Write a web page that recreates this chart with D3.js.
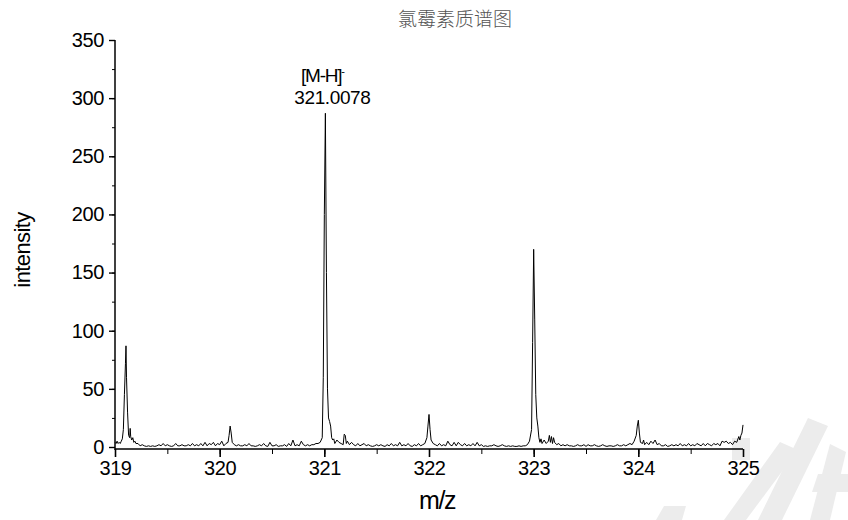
<!DOCTYPE html>
<html><head><meta charset="utf-8">
<script src="https://cdn.jsdelivr.net/npm/d3@7/dist/d3.min.js"></script>
<style>
body{margin:0;background:#fff;}
text{font-family:"Liberation Sans",Arial,sans-serif;}
</style></head>
<body><svg id="c" width="848" height="520"></svg>
<script>
const title = "氯霉素质谱图";
const xLabel = "m/z";
const yLabel = "intensity";
const xTicks = [319, 320, 321, 322, 323, 324, 325];
const yTicks = [0, 50, 100, 150, 200, 250, 300, 350];
const peakLabel = ["[M-H]", "-", "321.0078"];
const peakMz = 321.01;
const peakIntensity = 287;
// [m/z, intensity]
const spectrum = [
[319.00,4],[319.01,3],[319.02,5],[319.03,3],[319.04,4],[319.05,3],[319.06,5],[319.07,7],[319.08,15],[319.09,45],[319.10,72],[319.105,87],[319.11,60],[319.12,30],[319.13,10],[319.14,8],[319.145,16],[319.15,9],[319.16,6],[319.17,8],[319.18,4],[319.19,5],[319.20,3],[319.22,3],[319.24,1],[319.26,2],[319.28,1],[319.30,0.5],[319.32,1],[319.34,0.5],[319.36,1],[319.38,0.5],[319.40,1],[319.42,2],[319.44,1],[319.46,3],[319.48,1],[319.50,2],[319.52,1],[319.54,0.5],[319.56,1],[319.58,3],[319.60,1],[319.62,1],[319.64,2],[319.66,1],[319.68,1],[319.70,2],[319.72,1],[319.74,3],[319.76,1],[319.78,2],[319.80,1],[319.82,3],[319.84,1],[319.86,4],[319.88,1],[319.90,3],[319.92,2],[319.94,4],[319.96,1],[319.98,3],[320.00,2],[320.02,5],[320.04,1],[320.06,3],[320.08,4],[320.09,10],[320.10,18],[320.11,12],[320.12,4],[320.14,2],[320.16,1],[320.18,2],[320.20,1],[320.22,1],[320.24,2],[320.26,1],[320.28,3],[320.30,1],[320.32,1],[320.34,0.5],[320.36,1],[320.38,2],[320.40,1],[320.42,3],[320.44,1],[320.46,0.5],[320.48,4],[320.50,1],[320.52,1],[320.54,2],[320.56,0.5],[320.58,1],[320.60,1],[320.62,2],[320.64,0.5],[320.66,3],[320.68,1],[320.70,6],[320.72,1],[320.74,2],[320.76,1],[320.78,5],[320.80,2],[320.82,1],[320.84,2],[320.86,1],[320.88,2],[320.90,2],[320.92,3],[320.94,3],[320.96,4],[320.98,8],[320.99,60],[321.00,200],[321.01,287],[321.02,150],[321.03,50],[321.04,25],[321.05,22],[321.06,18],[321.07,8],[321.08,6],[321.09,7],[321.10,3],[321.12,6],[321.14,4],[321.16,3],[321.18,2],[321.19,11],[321.20,10],[321.21,3],[321.22,5],[321.24,2],[321.26,4],[321.28,2],[321.30,1],[321.32,3],[321.34,1],[321.36,2],[321.38,3],[321.40,1],[321.42,2],[321.44,1],[321.46,0.5],[321.48,1],[321.50,2],[321.52,1],[321.54,2],[321.56,1],[321.58,0.5],[321.60,2],[321.62,1],[321.64,3],[321.66,1],[321.68,2],[321.70,1],[321.72,4],[321.74,1],[321.76,2],[321.78,1],[321.80,3],[321.82,1],[321.84,0.5],[321.86,2],[321.88,1],[321.90,3],[321.92,1],[321.94,2],[321.96,3],[321.98,8],[321.99,18],[322.00,28],[322.01,15],[322.02,6],[322.04,3],[322.06,2],[322.08,1],[322.10,3],[322.12,1],[322.14,2],[322.16,1],[322.18,5],[322.20,2],[322.22,1],[322.24,4],[322.26,1],[322.28,4],[322.30,2],[322.32,1],[322.34,3],[322.36,1],[322.38,2],[322.40,1],[322.42,3],[322.44,1],[322.46,4],[322.48,1],[322.50,2],[322.52,0.5],[322.54,1],[322.56,0.5],[322.58,1],[322.60,1],[322.62,2],[322.64,1],[322.66,0.5],[322.68,1],[322.70,2],[322.72,1],[322.74,0.5],[322.76,1],[322.78,0.5],[322.80,1],[322.82,0.5],[322.84,0.5],[322.86,1],[322.88,0.5],[322.90,1],[322.92,1],[322.94,2],[322.96,5],[322.98,15],[322.99,90],[323.00,170],[323.01,110],[323.02,45],[323.03,25],[323.04,18],[323.05,8],[323.06,4],[323.07,7],[323.08,3],[323.10,6],[323.12,3],[323.14,5],[323.15,10],[323.16,4],[323.17,9],[323.18,3],[323.19,8],[323.20,4],[323.22,2],[323.24,3],[323.26,1],[323.28,2],[323.30,1],[323.32,2],[323.34,1],[323.36,1],[323.38,0.5],[323.40,1],[323.42,2],[323.44,1],[323.46,1],[323.48,2],[323.50,0.5],[323.52,2],[323.54,1],[323.56,1],[323.58,2],[323.60,1],[323.62,0.5],[323.64,1],[323.66,2],[323.68,1],[323.70,0.5],[323.72,1],[323.74,1],[323.76,0.5],[323.78,1],[323.80,2],[323.82,1],[323.84,1],[323.86,2],[323.88,1],[323.90,2],[323.92,3],[323.94,2],[323.96,5],[323.98,10],[323.99,18],[324.00,23],[324.01,12],[324.02,4],[324.04,3],[324.05,6],[324.06,2],[324.08,4],[324.10,2],[324.12,5],[324.14,3],[324.16,6],[324.18,2],[324.20,3],[324.22,1],[324.24,1],[324.26,2],[324.28,0.5],[324.30,1],[324.32,2],[324.34,1],[324.36,2],[324.38,1],[324.40,3],[324.42,1],[324.44,2],[324.46,1],[324.48,3],[324.50,1],[324.52,2],[324.54,1],[324.56,3],[324.58,2],[324.60,1],[324.62,3],[324.64,1],[324.66,3],[324.68,2],[324.70,1],[324.72,3],[324.74,2],[324.76,3],[324.78,1],[324.80,5],[324.82,4],[324.84,5],[324.86,3],[324.88,4],[324.90,2],[324.92,5],[324.94,4],[324.96,9],[324.97,6],[324.98,10],[324.99,12],[325.00,19]
];

(function(){
const svg = d3.select("#c");
const mLeft = 115, mRight = 743, mTop = 40, zeroY = 447, axisY = 449;

// watermark (light gray strokes, bottom right)
const wm = svg.append("g").attr("fill", "#ececec");
[
  [[808,418],[828,426],[782,520],[758,520]],
  [[780,442],[798,450],[746,520],[724,520]],
  [[830,444],[846,452],[830,520],[810,520]],
  [[818,474],[848,474],[848,492],[812,492]],
  [[732,438],[750,438],[750,460],[732,460]],
  [[664,506],[686,506],[682,520],[656,520]]
].forEach(p => wm.append("polygon").attr("points", p.map(d => d.join(",")).join(" ")));

const x = d3.scaleLinear().domain([319, 325]).range([mLeft, mRight]);
const y = d3.scaleLinear().domain([0, 350]).range([zeroY, mTop]);

// spectrum line
const line = d3.line().x(d => x(d[0])).y(d => y(d[1]));
svg.append("path").datum(spectrum)
  .attr("d", line).attr("fill", "none").attr("stroke", "#000").attr("stroke-width", 1)
  .attr("stroke-linejoin", "round");

// x axis
const gx = svg.append("g").attr("transform", `translate(0,${axisY})`);
gx.call(d3.axisBottom(x).tickValues(d3.range(319, 325.01, 0.5)).tickSize(5).tickFormat(""));
gx.select(".domain").remove();
gx.append("line").attr("x1", mLeft).attr("x2", mRight).attr("stroke", "#000").attr("stroke-width", 1.5);
const gxM = svg.append("g").attr("transform", `translate(0,${axisY})`);
gxM.call(d3.axisBottom(x).tickValues(xTicks).tickSize(8).tickPadding(4).tickFormat(d3.format("d")));
gxM.select(".domain").remove();
gxM.selectAll(".tick line").attr("stroke-width", 1.6);
gxM.selectAll("text").attr("font-size", 20).attr("fill", "#000").attr("letter-spacing", -0.4);

// y axis
const gy = svg.append("g").attr("transform", `translate(${mLeft},0)`);
gy.call(d3.axisLeft(y).tickValues(d3.range(0, 351, 25)).tickSize(3).tickFormat(""));
gy.select(".domain").remove();
gy.append("line").attr("y1", mTop).attr("y2", axisY + 1).attr("stroke", "#000").attr("stroke-width", 1.5);
const gyM = svg.append("g").attr("transform", `translate(${mLeft},0)`);
gyM.call(d3.axisLeft(y).tickValues(yTicks).tickSize(6).tickPadding(5).tickFormat(d3.format("d")));
gyM.select(".domain").remove();
gyM.selectAll(".tick line").attr("stroke-width", 1.4);
gyM.selectAll("text").attr("font-size", 20).attr("fill", "#000").attr("letter-spacing", -0.4);

// titles
svg.append("text").attr("x", 455).attr("y", 26).attr("text-anchor", "middle")
  .attr("font-size", 19).attr("fill", "#555")
  .style("font-family", "'Noto Sans CJK SC', sans-serif").style("font-weight", 300).text(title);
svg.append("text").attr("x", 437).attr("y", 509).attr("text-anchor", "middle")
  .attr("font-size", 25).attr("letter-spacing", -1.5).text(xLabel);
svg.append("text").attr("transform", "translate(30,250) rotate(-90)").attr("text-anchor", "middle")
  .attr("font-size", 22).attr("letter-spacing", -0.6).text(yLabel);

// peak annotation
const px = x(peakMz), py = y(peakIntensity);
const lab = svg.append("text").attr("x", px - 3).attr("y", py - 31).attr("text-anchor", "middle")
  .attr("font-size", 19).attr("letter-spacing", -1.2);
lab.append("tspan").text(peakLabel[0]);
lab.append("tspan").attr("dy", -7).attr("font-size", 11).text(peakLabel[1]);
svg.append("text").attr("x", px + 7).attr("y", py - 9).attr("text-anchor", "middle")
  .attr("font-size", 19).attr("letter-spacing", -0.4).text(peakLabel[2]);
})();
</script></body></html>
